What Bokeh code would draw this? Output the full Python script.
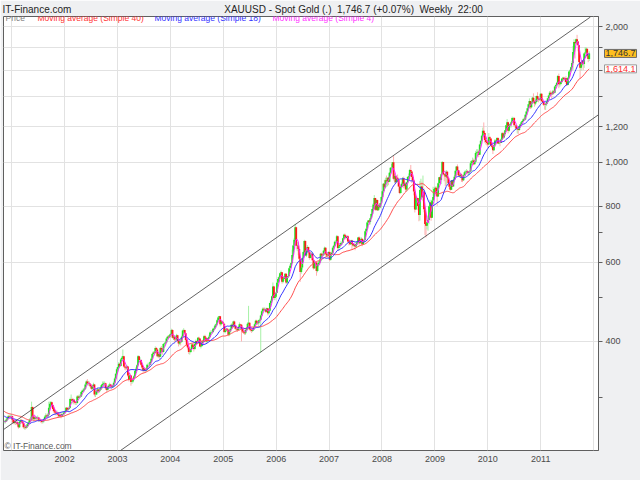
import pandas as pd
from bokeh.plotting import figure
from bokeh.models import Range1d, FixedTicker, Label, NumeralTickFormatter, DatetimeTickFormatter, ColumnDataSource
from bokeh.embed import file_html
from bokeh.resources import INLINE

FONT = "Liberation Sans"

# ---------------- data (weekly XAUUSD, Friday closes) ----------------
first_week = "2000-02-11"
# 39 weeks before the visible window (needed for the 40-week average)
pre_close = [312, 300, 293,
             294, 289, 286, 285, 278,
             281, 286, 281, 275,
             278, 276, 273, 275,
             284, 286, 288, 289, 288,
             283, 283, 281, 278,
             275, 278, 274, 276,
             277, 272, 271, 273, 273,
             270, 271, 271, 264,
             265]

close_2000 = [265, 266, 268, 270, 273, 272, 273, 273]
high_2000 = [267, 268, 270, 272, 275, 275, 275, 276]
low_2000 = [263, 263, 265, 266, 269, 270, 270, 271]

close_2001 = [268, 264, 265, 264,
              265, 262, 258, 265,
              267, 266, 264, 258, 258,
              257, 259, 262, 264,
              268, 268, 286, 272,
              269, 271, 270, 271, 271,
              268, 268, 267, 265,
              266, 268, 272, 274, 273,
              275, 285, 291, 293,
              289, 283, 280, 278,
              277, 278, 275, 273, 275,
              273, 276, 276, 278]
high_2001 = [274, 269, 268, 268,
             268, 266, 263, 267,
             269, 269, 268, 265, 262,
             260, 262, 264, 266,
             270, 272, 294, 287,
             274, 273, 273, 273, 274,
             272, 270, 269, 268,
             268, 270, 274, 277, 276,
             277, 294, 294, 295,
             294, 290, 285, 282,
             281, 281, 279, 277, 277,
             277, 278, 279, 280]
low_2001 = [265, 262, 262, 261,
            262, 260, 256, 257,
            263, 263, 262, 256, 255,
            255, 256, 258, 260,
            262, 265, 266, 270,
            266, 267, 268, 268, 268,
            265, 265, 264, 263,
            263, 264, 267, 270, 271,
            271, 272, 283, 287,
            285, 280, 277, 275,
            274, 274, 272, 271, 272,
            270, 272, 273, 274]

close_2002 = [279, 285, 282, 283,
              285, 298, 298, 295,
              297, 293, 292, 292, 302,
              300, 302, 302, 309,
              311, 312, 314, 321, 326,
              323, 323, 322, 318,
              314, 318, 321, 305,
              305, 311, 313, 310, 312,
              315, 320, 322, 323,
              323, 315, 312, 317,
              319, 321, 318, 317, 319,
              324, 331, 339, 347]
high_2002 = [281, 286, 286, 285,
             287, 300, 305, 300,
             299, 298, 295, 294, 304,
             304, 305, 304, 311,
             313, 315, 316, 323, 328,
             330, 327, 326, 323,
             320, 320, 324, 322,
             310, 313, 316, 314, 315,
             318, 322, 326, 326,
             326, 324, 316, 319,
             321, 324, 322, 320, 321,
             326, 333, 340, 350]
low_2002 = [276, 278, 280, 280,
            282, 284, 295, 292,
            290, 291, 289, 289, 291,
            298, 299, 300, 301,
            307, 309, 310, 313, 320,
            320, 319, 318, 316,
            312, 312, 315, 302,
            301, 304, 308, 307, 308,
            311, 314, 318, 319,
            319, 313, 309, 311,
            315, 317, 316, 315, 316,
            318, 322, 330, 337]

close_2003 = [351, 357, 353, 365, 368,
              371, 352, 350, 349,
              352, 336, 329, 336,
              325, 326, 330, 335,
              344, 348, 354, 371, 364,
              364, 355, 350, 345,
              348, 345, 347, 355,
              355, 355, 360, 366, 375,
              378, 377, 387, 384,
              371, 375, 370, 387, 384,
              379, 395, 396, 398,
              406, 410, 409, 413]
high_2003 = [352, 360, 358, 367, 371,
             384, 372, 356, 353,
             355, 353, 338, 340,
             337, 330, 333, 337,
             346, 351, 356, 373, 372,
             369, 365, 357, 352,
             351, 350, 349, 357,
             359, 358, 362, 368, 377,
             381, 380, 390, 389,
             386, 378, 377, 389, 391,
             386, 396, 398, 400,
             408, 412, 413, 416]
low_2003 = [343, 349, 351, 352, 362,
            366, 350, 346, 345,
            346, 334, 326, 328,
            319, 322, 324, 328,
            334, 341, 346, 352, 360,
            360, 353, 346, 341,
            343, 341, 343, 345,
            350, 351, 354, 358, 365,
            371, 373, 376, 380,
            369, 368, 366, 369, 380,
            374, 378, 390, 392,
            397, 404, 405, 408]

close_2004 = [415, 424, 408, 410, 404,
              404, 413, 401, 396,
              400, 399, 410, 423,
              424, 417, 403, 393, 388,
              379, 379, 385, 394,
              389, 385, 395, 401,
              396, 408, 406, 390, 391,
              400, 399, 411, 408,
              400, 401, 407, 410,
              419, 420, 420, 427, 428,
              434, 437, 446, 452,
              455, 437, 443, 441, 438]
high_2004 = [418, 427, 426, 414, 411,
             410, 416, 414, 403,
             404, 405, 412, 425,
             428, 425, 418, 405, 395,
             390, 385, 388, 396,
             396, 392, 396, 404,
             402, 409, 410, 406, 395,
             402, 404, 413, 414,
             410, 405, 409, 414,
             421, 424, 423, 429, 432,
             437, 439, 448, 455,
             456, 456, 444, 444, 443]
low_2004 = [410, 413, 406, 403, 398,
            401, 403, 398, 390,
            393, 392, 397, 407,
            419, 415, 400, 390, 384,
            375, 374, 377, 384,
            385, 380, 383, 393,
            394, 396, 402, 389, 386,
            389, 396, 398, 406,
            398, 397, 400, 405,
            408, 414, 416, 418, 424,
            426, 430, 434, 445,
            449, 432, 434, 439, 436]

close_2005 = [420, 423, 427, 425,
              414, 421, 427, 436,
              431, 443, 434, 427,
              427, 424, 431, 437, 436,
              427, 421, 419, 417,
              424, 426, 438, 440,
              426, 424, 422, 425, 430,
              437, 445, 440, 439,
              446, 447, 457, 467, 473,
              471, 472, 466, 474,
              462, 468, 487, 493,
              504, 530, 500, 503, 513]
high_2005 = [438, 425, 429, 428,
             427, 423, 429, 439,
             437, 445, 445, 433,
             431, 428, 433, 441, 438,
             437, 430, 423, 420,
             426, 429, 441, 480,
             441, 428, 426, 427, 431,
             439, 447, 447, 442,
             447, 450, 459, 469, 476,
             476, 476, 474, 476,
             474, 469, 488, 496,
             506, 541, 532, 506, 516]
low_2005 = [418, 417, 421, 421,
            411, 411, 419, 426,
            428, 429, 431, 424,
            422, 420, 424, 429, 432,
            400, 418, 416, 414,
            414, 422, 424, 436,
            423, 421, 418, 420, 423,
            428, 436, 438, 435,
            433, 442, 378, 457, 464,
            466, 468, 463, 464,
            457, 459, 467, 484,
            489, 500, 495, 494, 501]

close_2006 = [540, 551, 556, 567,
              570, 543, 551, 556,
              566, 541, 556, 559, 582,
              589, 598, 623, 654,
              673, 718, 653, 654,
              642, 611, 571, 584, 613,
              632, 669, 621, 637,
              649, 632, 613, 623,
              627, 606, 582, 600, 599,
              574, 594, 598, 603,
              627, 621, 622, 636,
              646, 627, 621, 621, 632]
high_2006 = [542, 556, 560, 569,
             575, 571, 555, 559,
             567, 567, 558, 564, 584,
             594, 600, 640, 656,
             680, 730, 720, 666,
             658, 640, 612, 590, 615,
             636, 673, 671, 640,
             655, 650, 632, 628,
             633, 628, 608, 605, 602,
             599, 596, 603, 610,
             629, 630, 627, 639,
             650, 648, 630, 625, 635]
low_2006 = [515, 536, 543, 550,
            562, 538, 539, 546,
            552, 537, 536, 553, 557,
            581, 584, 596, 619,
            650, 672, 641, 635,
            622, 602, 543, 566, 578,
            611, 631, 620, 616,
            635, 627, 608, 612,
            619, 605, 578, 580, 596,
            560, 570, 587, 594,
            600, 615, 615, 621,
            632, 622, 615, 615, 619]

close_2007 = [608, 626, 630, 646,
              653, 666, 666, 685,
              645, 650, 655, 662, 663,
              678, 691, 686, 679,
              685, 667, 664, 658,
              671, 659, 654, 657, 650,
              658, 665, 681, 661,
              671, 677, 658, 667, 673,
              703, 712, 735, 743,
              737, 752, 768, 788,
              806, 834, 785, 825, 783,
              803, 795, 811, 838]
high_2007 = [636, 628, 633, 650,
             656, 670, 672, 690,
             688, 655, 659, 668, 667,
             680, 694, 695, 690,
             690, 689, 672, 668,
             673, 673, 659, 660, 660,
             661, 667, 683, 685,
             676, 683, 676, 672, 676,
             706, 714, 738, 745,
             744, 754, 771, 790,
             812, 846, 834, 828, 827,
             807, 811, 813, 842]
low_2007 = [604, 605, 622, 627,
            641, 650, 660, 664,
            636, 636, 645, 653, 656,
            662, 674, 676, 674,
            675, 664, 654, 655,
            656, 642, 650, 648, 638,
            648, 655, 663, 656,
            660, 663, 651, 658, 665,
            670, 700, 710, 726,
            727, 728, 750, 764,
            786, 806, 780, 783, 780,
            782, 786, 791, 810]

close_2008 = [863, 897, 881, 913,
              908, 924, 906, 948, 973,
              973, 1001, 920, 933,
              905, 925, 914, 884,
              855, 882, 897, 921, 887,
              900, 871, 903, 928,
              932, 962, 955, 928,
              912, 862, 786, 832, 834,
              800, 764, 868, 884,
              837, 861, 787, 730, 723,
              736, 745, 799, 815,
              753, 823, 838, 873]
high_2008 = [866, 900, 915, 925,
             935, 926, 929, 952, 976,
             992, 1002, 1034, 945,
             939, 935, 940, 918,
             887, 885, 903, 928, 930,
             907, 902, 905, 932,
             945, 968, 987, 938,
             932, 912, 872, 840, 839,
             833, 812, 909, 920,
             906, 935, 876, 800, 774,
             763, 760, 802, 826,
             818, 827, 883, 880]
low_2008 = [834, 856, 864, 875,
            902, 885, 890, 904, 940,
            960, 972, 912, 900,
            895, 900, 904, 882,
            850, 852, 877, 895, 876,
            880, 861, 863, 895,
            915, 919, 944, 900,
            905, 845, 774, 786, 815,
            783, 740, 743, 860,
            825, 820, 775, 690, 681,
            710, 705, 729, 793,
            742, 760, 823, 838]

close_2009 = [878, 854, 840, 899, 927,
              914, 941, 1002, 942,
              939, 930, 953, 924,
              899, 883, 869, 912,
              884, 914, 929, 958, 979,
              962, 937, 933, 940,
              930, 913, 937, 951, 954,
              956, 947, 953, 955,
              996, 1006, 1010, 991,
              1003, 1049, 1053, 1056, 1040,
              1096, 1118, 1146, 1176,
              1162, 1121, 1110, 1104]
high_2009 = [884, 885, 862, 902, 928,
             932, 945, 1007, 1003,
             948, 945, 962, 958,
             928, 902, 893, 914,
             915, 918, 937, 960, 980,
             990, 962, 946, 945,
             945, 932, 940, 958, 960,
             966, 962, 955, 960,
             1008, 1011, 1025, 1019,
             1013, 1061, 1070, 1070, 1064,
             1100, 1119, 1152, 1195,
             1227, 1165, 1140, 1112]
low_2009 = [870, 843, 801, 842, 890,
            893, 895, 942, 935,
            908, 886, 890, 918,
            895, 873, 865, 868,
            883, 889, 910, 925, 954,
            957, 930, 925, 923,
            905, 904, 910, 937, 931,
            942, 940, 935, 942,
            953, 986, 999, 986,
            992, 1001, 1043, 1037, 1027,
            1041, 1087, 1115, 1137,
            1149, 1106, 1096, 1091]

close_2010 = [1096, 1138, 1130, 1091, 1083,
              1064, 1092, 1119, 1118,
              1133, 1102, 1106, 1105,
              1125, 1161, 1136, 1156, 1179,
              1209, 1228, 1176, 1213,
              1218, 1229, 1256, 1256,
              1209, 1210, 1188, 1188, 1181,
              1205, 1215, 1228, 1236,
              1247, 1246, 1276, 1297,
              1319, 1346, 1369, 1327, 1358,
              1393, 1367, 1352, 1363,
              1405, 1385, 1378, 1380, 1421]
high_2010 = [1112, 1162, 1144, 1125, 1101,
             1090, 1095, 1127, 1124,
             1138, 1138, 1129, 1109,
             1131, 1167, 1170, 1160, 1180,
             1210, 1249, 1232, 1219,
             1220, 1235, 1264, 1262,
             1262, 1215, 1211, 1198, 1189,
             1210, 1215, 1236, 1240,
             1256, 1258, 1281, 1300,
             1321, 1349, 1388, 1350, 1360,
             1398, 1424, 1363, 1381,
             1408, 1432, 1396, 1388, 1424]
low_2010 = [1074, 1118, 1123, 1085, 1074,
            1044, 1060, 1082, 1103,
            1103, 1100, 1097, 1086,
            1104, 1122, 1128, 1131, 1146,
            1168, 1193, 1160, 1170,
            1196, 1196, 1225, 1237,
            1200, 1190, 1183, 1160, 1157,
            1176, 1192, 1209, 1219,
            1240, 1240, 1240, 1271,
            1293, 1308, 1341, 1314, 1319,
            1348, 1362, 1330, 1340,
            1360, 1381, 1360, 1370, 1380]

close_2011 = [1369, 1361, 1343, 1341,
              1348, 1362, 1388, 1409,
              1429, 1420, 1418, 1437,
              1429, 1475, 1486, 1504, 1556,
              1491, 1493, 1510, 1536,
              1542, 1530, 1540, 1510,
              1486, 1542, 1592, 1601, 1628,
              1663, 1760, 1852, 1840,
              1877, 1857, 1822, 1672, 1624,
              1650, 1682, 1655, 1745,
              1754, 1788, 1725, 1698,
              1746.7]
high_2011 = [1423, 1390, 1372, 1350,
             1358, 1368, 1389, 1413,
             1441, 1445, 1434, 1449,
             1448, 1476, 1490, 1510, 1564,
             1575, 1515, 1513, 1537,
             1549, 1550, 1545, 1554,
             1509, 1545, 1594, 1610, 1632,
             1681, 1815, 1878, 1862,
             1886, 1921, 1848, 1812, 1668,
             1680, 1689, 1687, 1754,
             1803, 1802, 1790, 1728,
             1766]
low_2011 = [1366, 1356, 1335, 1310,
            1308, 1334, 1354, 1378,
            1413, 1405, 1385, 1416,
            1418, 1424, 1456, 1484, 1505,
            1462, 1473, 1483, 1502,
            1521, 1520, 1507, 1496,
            1478, 1483, 1543, 1583, 1586,
            1598, 1604, 1757, 1702,
            1823, 1843, 1766, 1654, 1535,
            1600, 1636, 1604, 1623,
            1711, 1752, 1704, 1670,
            1680]

# trend channel anchor points (date, price)
upper_dates = ["2000-11-06", "2011-12-10"]
upper_prices = [255, 2104]
lower_dates = ["2003-01-22", "2012-02-11"]
lower_prices = [229, 1281]

year_ticks = [2002, 2003, 2004, 2005, 2006, 2007, 2008, 2009, 2010, 2011]
year_grid = [2001] + year_ticks + [2012]
price_ticks = [400, 600, 800, 1000, 1200, 2000]
price_minor = [300, 500, 700, 1400, 1600, 1800]
price_grid = [400, 600, 800, 1000, 1200, 1400, 1600, 1800, 2000]

NB = "\u00a0"
header_left = "IT-Finance.com"
header_title = "XAUUSD - Spot Gold (.)"
header_change = "1,746.7 (+0.07%)"
header_period = "Weekly" + NB + NB + "22:00"
legend_items = [("Price", "#808080"),
                ("Moving average (Simple 40)", "#ff3333"),
                ("Moving average (Simple 18)", "#3333ff"),
                ("Moving average (Simple 4)", "#ff33ff")]

# ---------------- assemble ----------------
closes = close_2000 + close_2001 + close_2002 + close_2003 + close_2004 + close_2005 + \
    close_2006 + close_2007 + close_2008 + close_2009 + close_2010 + close_2011
highs = high_2000 + high_2001 + high_2002 + high_2003 + high_2004 + high_2005 + \
    high_2006 + high_2007 + high_2008 + high_2009 + high_2010 + high_2011
lows = low_2000 + low_2001 + low_2002 + low_2003 + low_2004 + low_2005 + \
    low_2006 + low_2007 + low_2008 + low_2009 + low_2010 + low_2011

all_close = pre_close + closes
dates = pd.date_range(first_week, periods=len(all_close), freq="7D")
s = pd.Series(all_close, dtype=float)
n_pre = len(pre_close)
sma40 = s.rolling(40).mean().iloc[n_pre:].to_numpy()
sma18 = s.rolling(18).mean().iloc[n_pre:].to_numpy()
sma4 = s.rolling(4).mean().iloc[n_pre:].to_numpy()

vis_dates = dates[n_pre:]
opens = all_close[n_pre - 1:-1]
up = [c >= o for o, c in zip(opens, closes)]
hi = [max(h, o, c) for h, o, c in zip(highs, opens, closes)]
lo = [min(l, o, c) for l, o, c in zip(lows, opens, closes)]

src = ColumnDataSource(dict(
    x=vis_dates, o=opens, c=closes, h=hi, l=lo,
    body=["#22e022" if u else "#ff1a1a" for u in up],
    wick=["#a6f0a6" if u else "#ffb0b0" for u in up],
))

def ms(d):
    return pd.Timestamp(d).value // 10**6

# ---------------- figure ----------------
W, H = 640, 480
ML, MR, MT, MB = 3, 42, 14, 27
FW = W - ML - MR
FH = H - MT - MB
X0, X1 = ms("2000-11-05"), ms("2012-02-04")

p = figure(width=W, height=H, x_axis_type="datetime", y_axis_type="log",
           x_range=Range1d(X0, X1),
           y_range=Range1d(229, 2110),
           y_axis_location="right", toolbar_location=None, output_backend="svg",
           min_border_left=ML, min_border_right=MR, min_border_top=MT, min_border_bottom=MB,
           background_fill_color="white", border_fill_color="#eff0f2",
           outline_line_color="#5f5f5f")

# header as the plot title (non-breaking spaces keep the gaps)
p.title.text = (header_left + NB * 55 + header_title + NB * 2 + header_change
                + NB * 2 + header_period)
p.title.align = "left"
p.title.offset = -1
p.title.standoff = 3
p.title.text_font = FONT
p.title.text_font_size = "10px"
p.title.text_font_style = "normal"
p.title.text_color = "#1e1e1e"

# grids
p.xgrid.ticker = FixedTicker(ticks=[ms(f"{y}-01-01") for y in year_grid])
p.ygrid.ticker = FixedTicker(ticks=price_grid)
for g in (p.xgrid, p.ygrid):
    g.grid_line_color = "#e2e2e2"
    g.grid_line_width = 1

# x axis
xa = p.xaxis[0]
xa.ticker = FixedTicker(ticks=[ms(f"{y}-01-01") for y in year_ticks])
xa.formatter = DatetimeTickFormatter(years="%Y", months="%Y", days="%Y")
xa.axis_line_color = None
xa.major_tick_line_color = None
xa.minor_tick_line_color = None
xa.major_tick_in = 0
xa.major_tick_out = 0
xa.minor_tick_out = 0
xa.major_label_standoff = 5
xa.major_label_text_font = FONT
xa.major_label_text_font_size = "9px"
xa.major_label_text_color = "#4a4a4a"

# y axis
ya = p.yaxis[0]
ya.ticker = FixedTicker(ticks=price_ticks, minor_ticks=price_minor)
ya.formatter = NumeralTickFormatter(format="0,0")
ya.axis_line_color = "#5f5f5f"
ya.major_tick_line_color = "#5f5f5f"
ya.minor_tick_line_color = "#5f5f5f"
ya.major_tick_in = 0
ya.major_tick_out = 4
ya.minor_tick_in = 0
ya.minor_tick_out = 4
ya.major_label_standoff = 3
ya.major_label_text_font = FONT
ya.major_label_text_font_size = "9px"
ya.major_label_text_color = "#4a4a4a"

# candles
p.segment(x0="x", y0="l", x1="x", y1="h", line_color="wick", line_width=1, source=src)
p.segment(x0="x", y0="o", x1="x", y1="c", line_color="body", line_width=1.8, source=src)

# moving averages
p.line(vis_dates, sma40, line_color="#ff4d4d", line_width=1)
p.line(vis_dates, sma18, line_color="#3333ff", line_width=1)
p.line(vis_dates, sma4, line_color="#ff22ff", line_width=1)

# channel
p.line([ms(d) for d in upper_dates], upper_prices, line_color="#3a3a3a", line_width=0.8)
p.line([ms(d) for d in lower_dates], lower_prices, line_color="#3a3a3a", line_width=0.8)

# legend texts (inside the plot area)
leg_x = [2, 34, 151, 269]
for (t, col), lx in zip(legend_items, leg_x):
    p.add_layout(Label(x=lx, y=FH - 6, x_units="screen", y_units="screen", text=t,
                       text_font=FONT, text_font_size="8.5px", text_color=col,
                       text_baseline="middle"))

p.add_layout(Label(x=1, y=5, x_units="screen", y_units="screen", text="\u00a9 IT-Finance.com",
                   text_font=FONT, text_font_size="8.5px", text_color="#5a5a5a",
                   text_baseline="middle"))

# last-value boxes just right of the price axis line (side panel, so not clipped)
box_x = X1 + (X1 - X0) * 6 / FW
last_close = closes[-1]
last_sma40 = float(sma40[-1])
p.add_layout(Label(x=box_x, y=last_close, x_units="data", y_units="data",
                   text=f"{last_close:,.1f}", text_font=FONT, text_font_size="9px",
                   text_color="#333333", text_baseline="middle",
                   background_fill_color="#ffbf1f", border_line_color="#6a6a6a",
                   padding=1), "below")
p.add_layout(Label(x=box_x, y=last_sma40, x_units="data", y_units="data",
                   text=f"{last_sma40:,.1f}", text_font=FONT, text_font_size="9px",
                   text_color="#ff3030", text_baseline="middle",
                   background_fill_color="white", border_line_color="#9a9a9a",
                   padding=1), "below")

open("out.html", "w").write(file_html(p, INLINE))
